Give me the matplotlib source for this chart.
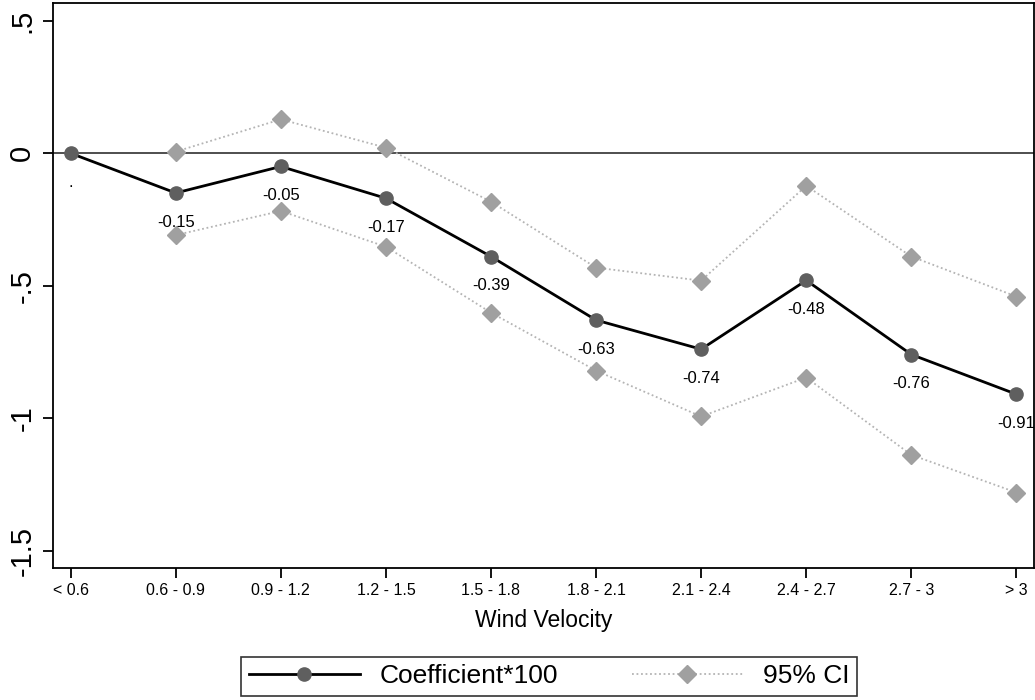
import numpy as np
import matplotlib.pyplot as plt

plt.rcParams['font.family'] = ['Liberation Sans', 'DejaVu Sans']

# data
categories = ['< 0.6', '0.6 - 0.9', '0.9 - 1.2', '1.2 - 1.5', '1.5 - 1.8',
              '1.8 - 2.1', '2.1 - 2.4', '2.4 - 2.7', '2.7 - 3', '> 3']
coef = [0.0, -0.15, -0.05, -0.17, -0.39, -0.63, -0.74, -0.48, -0.76, -0.91]
coef_labels = ['.', '-0.15', '-0.05', '-0.17', '-0.39', '-0.63', '-0.74', '-0.48', '-0.76', '-0.91']
ci_upper = [np.nan, 0.006, 0.128, 0.021, -0.183, -0.432, -0.481, -0.123, -0.39, -0.541]
ci_lower = [np.nan, -0.309, -0.218, -0.353, -0.602, -0.821, -0.994, -0.847, -1.139, -1.281]
yticks = [-1.5, -1, -0.5, 0, 0.5]
ytick_labels = ['-1.5', '-1', '-.5', '0', '.5']

x = np.arange(len(categories))

fig = plt.figure(figsize=(10.35, 7), dpi=100)
ax = fig.add_axes([0.0512, 0.1886, 0.9478, 0.807])

ax.axhline(0, color='#404040', linewidth=1.3, zorder=1)

ci_style = dict(color='#b4b4b4', linestyle=(0, (1, 1.5)), linewidth=1.3,
                marker='D', markersize=9.2, markerfacecolor='#a0a0a0',
                markeredgecolor='#a0a0a0', zorder=2)
l_ci, = ax.plot(x, ci_upper, **ci_style)
ax.plot(x, ci_lower, **ci_style)

l_coef, = ax.plot(x, coef, color='black', linewidth=2, marker='o', markersize=9.5,
                  markerfacecolor='#5f5f5f', markeredgecolor='#5f5f5f', zorder=3)

for xi, yi, lab in zip(x, coef, coef_labels):
    ax.annotate(lab, (xi, yi), xytext=(0, -21), textcoords='offset points',
                ha='center', va='center', fontsize=12)

ax.set_xlim(-0.168, 9.167)
ax.set_ylim(-1.566, 0.567)
ax.set_xticks(x)
ax.set_xticklabels(categories, fontsize=11.5)
ax.set_yticks(yticks)
ax.set_yticklabels(ytick_labels, fontsize=21, rotation=90, va='center')
ax.tick_params(axis='both', length=7, width=1.3, direction='out')
ax.tick_params(axis='y', pad=5)
for s in ax.spines.values():
    s.set_linewidth(1.3)

ax.set_xlabel('Wind Velocity', fontsize=16.5, labelpad=8)

leg = fig.legend([l_coef, l_ci], ['Coefficient*100', '95% CI'], loc='center',
                 bbox_to_anchor=(0.5304, 0.0336), ncol=2, fontsize=19,
                 frameon=True, fancybox=False, edgecolor='black',
                 handlelength=4.2, columnspacing=2.8, handletextpad=0.75,
                 borderpad=0.3)
leg.get_frame().set_linewidth(1.2)

fig.savefig('out.png', dpi=100)
